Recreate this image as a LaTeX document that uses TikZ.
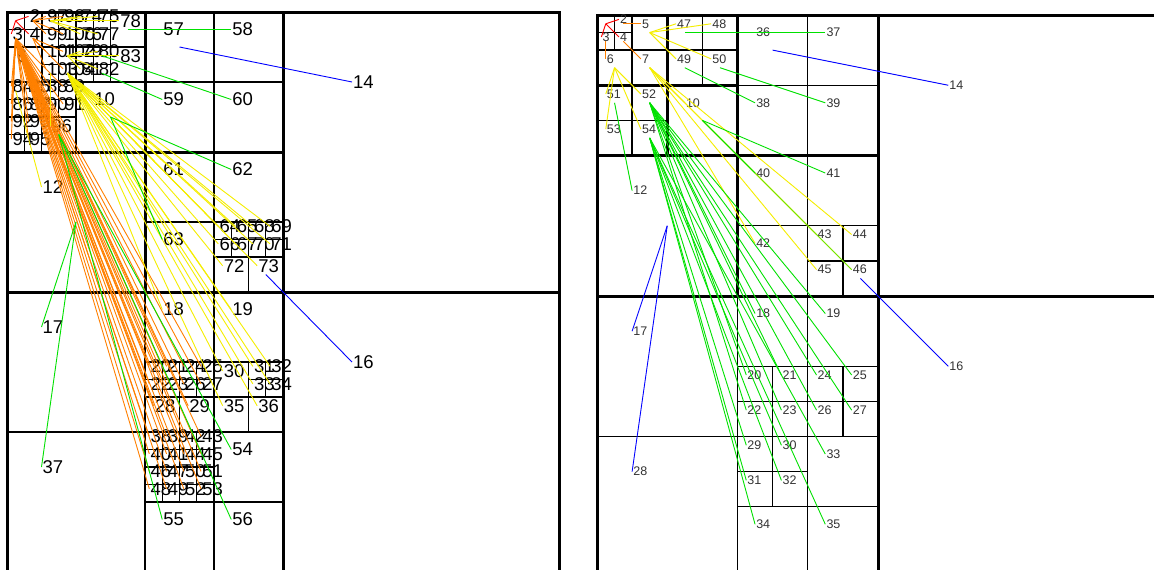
\documentclass[tikz,border=0pt]{standalone}
\usepackage{fontspec}
\setmainfont{Liberation Sans}
\definecolor{cRed}{RGB}{255,0,0}
\definecolor{cOrange}{RGB}{255,128,0}
\definecolor{cYellow}{RGB}{245,238,0}
\definecolor{cGreen}{RGB}{0,225,0}
\definecolor{cBlue}{RGB}{0,0,255}
\tikzset{
  bw32/.style={line width=3pt}, bw16/.style={line width=3pt}, bw8/.style={line width=1.5pt},
  bw4/.style={line width=1.4pt}, bw2/.style={line width=1.3pt}, bw1/.style={line width=1pt},
  labL/.style={font=\fontsize{18.5}{20}\selectfont, inner xsep=1pt, inner ysep=0pt, text=black},
  labR/.style={font=\fontsize{12.5}{14}\selectfont, inner xsep=1pt, inner ysep=0pt, text=black!80},
  eR/.style={draw=cRed, line width=0.9pt},
  eO/.style={draw=cOrange, line width=0.9pt},
  eY/.style={draw=cYellow, line width=0.9pt},
  eG/.style={draw=cGreen, line width=0.9pt},
  eGo/.style={draw=cGreen, line width=0.9pt, draw opacity=0.55},
  eB/.style={draw=cBlue, line width=0.9pt}
}
\newcommand\cellrect[5]{%
  \draw[bw#5] ({\ox+(#3)*\ux},{\oy+(#4)*\uy}) rectangle ({\ox+(#3+#5)*\ux},{\oy+(#4+#5)*\uy});
  \coordinate (#1#2c) at ({\ox+(#3+#5/2)*\ux},{\oy+(#4+#5/2)*\uy});
  \coordinate (#1#2) at ({\ox+(#3+#5/4)*\ux},{\oy+(#4+#5/4)*\uy});}
\newcommand\celltext[5]{\node[lab#1,anchor=west] (#1#2t) at (#1#2) {#2};}
\newcommand\gobblefive[5]{}
\newcommand\fan[4]{\foreach \tg in {#4}{\draw[#1] (#2#3c) -- (#2\tg);}}
% thick borders of the children of the cells that hold cell 1
\newcommand\pbox[4]{\draw[line width=#4] ({\ox+(#1)*\ux},{\oy+(#2)*\uy}) rectangle ({\ox+(#1+#3)*\ux},{\oy+(#2+#3)*\uy});}
\newcommand\pathboxes{%
  \foreach \pi/\pj in {0/0,8/0,0/8,8/8}{\pbox{\pi}{\pj}{8}{3pt}}
  \foreach \pi/\pj in {0/0,4/0,0/4,4/4}{\pbox{\pi}{\pj}{4}{2.6pt}}
  \foreach \pi/\pj in {0/0,2/0,0/2,2/2}{\pbox{\pi}{\pj}{2}{2pt}}
  \foreach \pi/\pj in {0/0,1/0,0/1,1/1}{\pbox{\pi}{\pj}{1}{1.4pt}}
  \foreach \pi/\pj in {0/0,16/0,0/16,16/16}{\pbox{\pi}{\pj}{16}{3pt}}}

% ---------- right panel cells ----------
\newcommand\Rcells{%
  \QI{R}{0}{0}{0}{32}\QI{R}{a16}{0}{0}{16}\QI{R}{a8}{0}{0}{8}\QI{R}{a4}{0}{0}{4}\QI{R}{a2}{0}{0}{2}
  \QI{R}{1}{0}{0}{1}\QL{R}{2}{1}{0}{1}\QL{R}{3}{0}{1}{1}\QL{R}{4}{1}{1}{1}
  \QL{R}{5}{2}{0}{2}\QL{R}{6}{0}{2}{2}\QL{R}{7}{2}{2}{2}
  \QI{R}{8}{4}{0}{4}\QI{R}{9}{0}{4}{4}\QL{R}{10}{4}{4}{4}
  \QI{R}{11}{8}{0}{8}\QL{R}{12}{0}{8}{8}\QI{R}{13}{8}{8}{8}
  \QL{R}{14}{16}{0}{16}\QI{R}{15}{0}{16}{16}\QL{R}{16}{16}{16}{16}
  \QL{R}{17}{0}{16}{8}\QI{R}{bt}{8}{16}{8}\QL{R}{18}{8}{16}{4}\QL{R}{19}{12}{16}{4}
  \QI{R}{xa}{8}{20}{4}\QL{R}{20}{8}{20}{2}\QL{R}{21}{10}{20}{2}\QL{R}{22}{8}{22}{2}\QL{R}{23}{10}{22}{2}
  \QI{R}{xb}{12}{20}{4}\QL{R}{24}{12}{20}{2}\QL{R}{25}{14}{20}{2}\QL{R}{26}{12}{22}{2}\QL{R}{27}{14}{22}{2}
  \QL{R}{28}{0}{24}{8}\QI{R}{bb}{8}{24}{8}
  \QI{R}{xc}{8}{24}{4}\QL{R}{29}{8}{24}{2}\QL{R}{30}{10}{24}{2}\QL{R}{31}{8}{26}{2}\QL{R}{32}{10}{26}{2}
  \QL{R}{33}{12}{24}{4}\QL{R}{34}{8}{28}{4}\QL{R}{35}{12}{28}{4}
  \QL{R}{36}{8}{0}{4}\QL{R}{37}{12}{0}{4}\QL{R}{38}{8}{4}{4}\QL{R}{39}{12}{4}{4}
  \QL{R}{40}{8}{8}{4}\QL{R}{41}{12}{8}{4}\QL{R}{42}{8}{12}{4}\QI{R}{xd}{12}{12}{4}
  \QL{R}{43}{12}{12}{2}\QL{R}{44}{14}{12}{2}\QL{R}{45}{12}{14}{2}\QL{R}{46}{14}{14}{2}
  \QL{R}{47}{4}{0}{2}\QL{R}{48}{6}{0}{2}\QL{R}{49}{4}{2}{2}\QL{R}{50}{6}{2}{2}
  \QL{R}{51}{0}{4}{2}\QL{R}{52}{2}{4}{2}\QL{R}{53}{0}{6}{2}\QL{R}{54}{2}{6}{2}}

% ---------- left panel cells ----------
\newcommand\Lcells{%
  \QI{L}{0}{0}{0}{32}\QI{L}{a16}{0}{0}{16}\QI{L}{a8}{0}{0}{8}\QI{L}{a4}{0}{0}{4}\QI{L}{a2}{0}{0}{2}
  \QI{L}{1}{0}{0}{1}\QL{L}{2}{1}{0}{1}\QL{L}{3}{0}{1}{1}\QL{L}{4}{1}{1}{1}
  \QI{L}{5}{2}{0}{2}\QL{L}{97}{2}{0}{1}\QL{L}{98}{3}{0}{1}\QL{L}{99}{2}{1}{1}\QL{L}{100}{3}{1}{1}
  \QL{L}{6}{0}{2}{2}
  \QI{L}{7}{2}{2}{2}\QL{L}{101}{2}{2}{1}\QL{L}{102}{3}{2}{1}\QL{L}{103}{2}{3}{1}\QL{L}{104}{3}{3}{1}
  \QI{L}{8}{4}{0}{4}\QI{L}{ya}{4}{0}{2}\QL{L}{74}{4}{0}{1}\QL{L}{75}{5}{0}{1}\QL{L}{76}{4}{1}{1}\QL{L}{77}{5}{1}{1}
  \QL{L}{78}{6}{0}{2}\QI{L}{yb}{4}{2}{2}\QL{L}{79}{4}{2}{1}\QL{L}{80}{5}{2}{1}\QL{L}{81}{4}{3}{1}\QL{L}{82}{5}{3}{1}
  \QL{L}{83}{6}{2}{2}
  \QI{L}{9}{0}{4}{4}\QI{L}{yc}{0}{4}{2}\QL{L}{84}{0}{4}{1}\QL{L}{85}{1}{4}{1}\QL{L}{86}{0}{5}{1}\QL{L}{87}{1}{5}{1}
  \QI{L}{yd}{2}{4}{2}\QL{L}{88}{2}{4}{1}\QL{L}{89}{3}{4}{1}\QL{L}{90}{2}{5}{1}\QL{L}{91}{3}{5}{1}
  \QI{L}{ye}{0}{6}{2}\QL{L}{92}{0}{6}{1}\QL{L}{93}{1}{6}{1}\QL{L}{94}{0}{7}{1}\QL{L}{95}{1}{7}{1}
  \QL{L}{96}{2}{6}{2}
  \QL{L}{10}{4}{4}{4}
  \QI{L}{11}{8}{0}{8}\QL{L}{57}{8}{0}{4}\QL{L}{58}{12}{0}{4}\QL{L}{59}{8}{4}{4}\QL{L}{60}{12}{4}{4}
  \QL{L}{12}{0}{8}{8}
  \QI{L}{13}{8}{8}{8}\QL{L}{61}{8}{8}{4}\QL{L}{62}{12}{8}{4}\QL{L}{63}{8}{12}{4}\QI{L}{yf}{12}{12}{4}
  \QI{L}{yg}{12}{12}{2}\QL{L}{64}{12}{12}{1}\QL{L}{65}{13}{12}{1}\QL{L}{66}{12}{13}{1}\QL{L}{67}{13}{13}{1}
  \QI{L}{yh}{14}{12}{2}\QL{L}{68}{14}{12}{1}\QL{L}{69}{15}{12}{1}\QL{L}{70}{14}{13}{1}\QL{L}{71}{15}{13}{1}
  \QL{L}{72}{12}{14}{2}\QL{L}{73}{14}{14}{2}
  \QL{L}{14}{16}{0}{16}\QI{L}{15}{0}{16}{16}\QL{L}{16}{16}{16}{16}
  \QL{L}{17}{0}{16}{8}\QI{L}{zt}{8}{16}{8}\QL{L}{18}{8}{16}{4}\QL{L}{19}{12}{16}{4}
  \QI{L}{za}{8}{20}{4}\QI{L}{zb}{8}{20}{2}\QL{L}{20}{8}{20}{1}\QL{L}{21}{9}{20}{1}\QL{L}{22}{8}{21}{1}\QL{L}{23}{9}{21}{1}
  \QI{L}{zc}{10}{20}{2}\QL{L}{24}{10}{20}{1}\QL{L}{25}{11}{20}{1}\QL{L}{26}{10}{21}{1}\QL{L}{27}{11}{21}{1}
  \QL{L}{28}{8}{22}{2}\QL{L}{29}{10}{22}{2}
  \QI{L}{zd}{12}{20}{4}\QL{L}{30}{12}{20}{2}\QI{L}{ze}{14}{20}{2}
  \QL{L}{31}{14}{20}{1}\QL{L}{32}{15}{20}{1}\QL{L}{33}{14}{21}{1}\QL{L}{34}{15}{21}{1}
  \QL{L}{35}{12}{22}{2}\QL{L}{36}{14}{22}{2}
  \QL{L}{37}{0}{24}{8}\QI{L}{zf}{8}{24}{8}\QI{L}{zg}{8}{24}{4}
  \QI{L}{zh}{8}{24}{2}\QL{L}{38}{8}{24}{1}\QL{L}{39}{9}{24}{1}\QL{L}{40}{8}{25}{1}\QL{L}{41}{9}{25}{1}
  \QI{L}{zi}{10}{24}{2}\QL{L}{42}{10}{24}{1}\QL{L}{43}{11}{24}{1}\QL{L}{44}{10}{25}{1}\QL{L}{45}{11}{25}{1}
  \QI{L}{zj}{8}{26}{2}\QL{L}{46}{8}{26}{1}\QL{L}{47}{9}{26}{1}\QL{L}{48}{8}{27}{1}\QL{L}{49}{9}{27}{1}
  \QI{L}{zk}{10}{26}{2}\QL{L}{50}{10}{26}{1}\QL{L}{51}{11}{26}{1}\QL{L}{52}{10}{27}{1}\QL{L}{53}{11}{27}{1}
  \QL{L}{54}{12}{24}{4}\QL{L}{55}{8}{28}{4}\QL{L}{56}{12}{28}{4}}

\begin{document}
\begin{tikzpicture}[x=1pt,y=-1pt]
\useasboundingbox (0,0) rectangle (1154,570);
\fill[white] (0,0) rectangle (1154,570);

% ===== left panel =====
\def\ox{7}\def\oy{12}\def\ux{17.25}\def\uy{17.5}
\let\QL\cellrect \let\QI\cellrect \Lcells
\pathboxes
\let\QL\celltext \let\QI\gobblefive \Lcells

% ===== right panel =====
\def\ox{597}\def\oy{15}\def\ux{17.5625}\def\uy{17.5625}
\let\QL\cellrect \let\QI\cellrect \Rcells
\pathboxes
\let\QL\celltext \let\QI\gobblefive \Rcells

% ----- left connectors -----
\fan{eR}{L}{1}{2,3,4}
\fan{eO}{L}{2}{97,98,99,100}
\fan{eO}{L}{4}{101,102,103,104}
\fan{eO}{L}{3}{6,84,85,86,87,88,89,90,91,92,93,94,95}
\fan{eO}{L}{3}{20,21,22,23,24,25,26,27,28,29}
\fan{eO}{L}{3}{38,39,40,41,42,43,44,45,46,47,48,49,50,51,52,53}
\fan{eY}{L}{97}{74,75,76,77,78}
\fan{eY}{L}{102}{79,80,81,82,83}
\fan{eY}{L}{84}{12}
\fan{eY}{L}{103}{96}
\fan{eY}{L}{104}{10,61,64,65,66,67,68,69,70,71,72,73,18,19,30,31,32,33,34,35,36}
\fan{eG}{L}{78}{57,58}
\fan{eG}{L}{82}{59}
\fan{eG}{L}{80}{60}
\fan{eG}{L}{10}{62,63}
\fan{eG}{L}{96}{54,55,56}
\fan{eG}{L}{12}{17,37}
\fan{eB}{L}{57}{14}
\fan{eB}{L}{73}{16}

% ----- right connectors -----
\fan{eR}{R}{1}{2,3,4}
\fan{eO}{R}{2}{5}
\fan{eO}{R}{3}{6}
\fan{eO}{R}{4}{7}
\fan{eY}{R}{5}{47,48,49,50}
\fan{eY}{R}{6}{51,52,53,54}
\fan{eY}{R}{7}{10,42,43,44,45,46}
\fan{eG}{R}{47}{36}
\fan{eG}{R}{48}{37}
\fan{eG}{R}{49}{38}
\fan{eG}{R}{50}{39}
\fan{eG}{R}{51}{12}
\fan{eG}{R}{10}{40,41}
\fan{eGo}{R}{10}{46}
\fan{eG}{R}{52}{18,19,20,21,22,23,24,25,26,27}
\fan{eG}{R}{54}{29,30,31,32,33,34,35}
\fan{eB}{R}{36}{14}
\fan{eB}{R}{12}{17,28}
\fan{eB}{R}{46}{16}
\end{tikzpicture}
\end{document}
